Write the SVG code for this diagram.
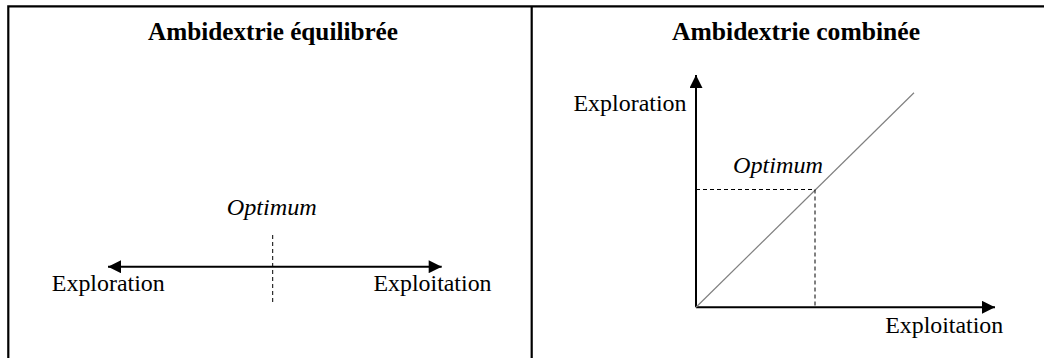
<svg xmlns="http://www.w3.org/2000/svg" width="1044" height="358" viewBox="0 0 1044 358">
<style>
.t{font-family:"Liberation Serif","Times New Roman",serif;font-size:24px;fill:#000}
.b{font-weight:bold;font-size:25px}
.i{font-style:italic}
.frame{stroke:#000;stroke-width:2.2;fill:none}
.ax{stroke:#000;stroke-width:2;fill:none}
.dash{stroke:#000;stroke-width:1;stroke-dasharray:4 3;fill:none}
.diag{stroke:#808080;stroke-width:1.2;fill:none}
</style>
<defs>
<marker id="ah" viewBox="0 0 10 10" refX="10" refY="5" markerWidth="7.5" markerHeight="6.5" markerUnits="strokeWidth" orient="auto-start-reverse">
<path d="M0,0 L10,5 L0,10 Z" fill="#000"/>
</marker>
</defs>
<g id="frame">
<path class="frame" d="M8.3,358 V6.3 H1044"/>
<path class="frame" d="M531.7,6.3 V358"/>
</g>
<g id="left-panel">
<text class="t b" x="273" y="40" text-anchor="middle" textLength="250" lengthAdjust="spacingAndGlyphs">Ambidextrie équilibrée</text>
<text id="left-optimum" class="t i" x="271.7" y="215" text-anchor="middle" textLength="90" lengthAdjust="spacingAndGlyphs">Optimum</text>
<text id="left-exploration" class="t" x="108.3" y="291" text-anchor="middle" textLength="113" lengthAdjust="spacingAndGlyphs">Exploration</text>
<text id="left-exploitation" class="t" x="432.5" y="291" text-anchor="middle" textLength="118" lengthAdjust="spacingAndGlyphs">Exploitation</text>
</g>
<g id="right-panel">
<text class="t b" x="796" y="40" text-anchor="middle" textLength="248" lengthAdjust="spacingAndGlyphs">Ambidextrie combinée</text>
<text id="right-exploration" class="t" x="630" y="110.7" text-anchor="middle" textLength="113" lengthAdjust="spacingAndGlyphs">Exploration</text>
<text id="right-optimum" class="t i" x="778" y="173.3" text-anchor="middle" textLength="90" lengthAdjust="spacingAndGlyphs">Optimum</text>
<text id="right-exploitation" class="t" x="944.2" y="333.3" text-anchor="middle" textLength="118" lengthAdjust="spacingAndGlyphs">Exploitation</text>
</g>
<g id="connectors">
<line class="ax" x1="108" y1="266.7" x2="441.7" y2="266.7" marker-start="url(#ah)" marker-end="url(#ah)"/>
<line class="dash" x1="272.7" y1="235" x2="272.7" y2="302"/>
<line class="ax" x1="696" y1="307.3" x2="696" y2="75" marker-end="url(#ah)"/>
<line class="ax" x1="696" y1="307.3" x2="995" y2="307.3" marker-end="url(#ah)"/>
<line class="diag" x1="696" y1="307.3" x2="914" y2="92.7"/>
<polyline class="dash" points="696,189.5 815,189.5 815,307"/>
</g>
</svg>
